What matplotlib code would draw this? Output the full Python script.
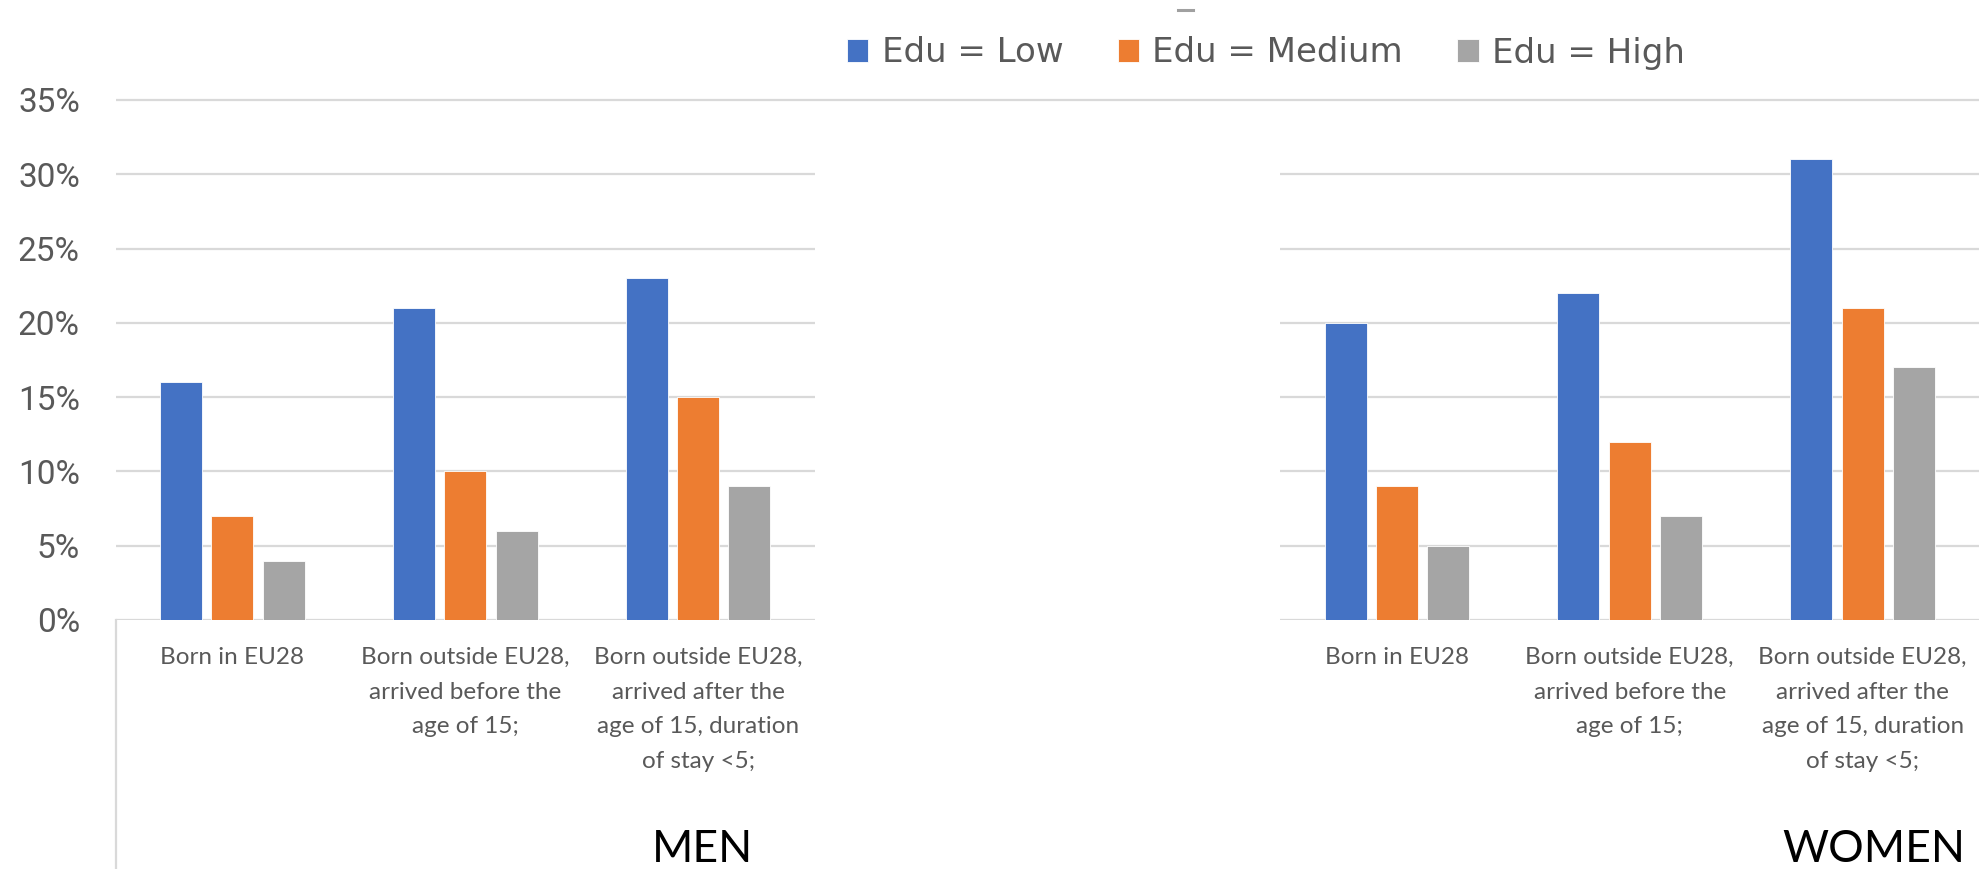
import matplotlib.pyplot as plt
import numpy as np
from matplotlib.lines import Line2D

categories = ["Born in EU28",
              "Born outside EU28,\narrived before the\nage of 15;",
              "Born outside EU28,\narrived after the\nage of 15, duration\nof stay <5;"]
groups = ["MEN", "WOMEN"]
series = ["Edu = Low", "Edu = Medium", "Edu = High"]

men_low = [0.16, 0.21, 0.23]
men_medium = [0.07, 0.10, 0.15]
men_high = [0.04, 0.06, 0.09]
women_low = [0.20, 0.22, 0.31]
women_medium = [0.09, 0.12, 0.21]
women_high = [0.05, 0.07, 0.17]

colors = ["#4472C4", "#ED7D31", "#A5A5A5"]
grid_c = "#D9D9D9"
text_c = "#595959"

W, H = 1979, 869
fig = plt.figure(figsize=(W / 100, H / 100), dpi=100)
ax = fig.add_axes([116 / W, (H - 620) / H, (W - 116) / W, 520 / H])

# men on slots 0-2, women on slots 5-7, two empty slots between
men_x = np.arange(3)
women_x = np.arange(3) + 5
bar_w = 0.18
step = 0.22

men_vals = [men_low, men_medium, men_high]
women_vals = [women_low, women_medium, women_high]
for i in range(3):
    off = (i - 1) * step
    ax.bar(men_x + off, men_vals[i], width=bar_w, color=colors[i],
           edgecolor="white", linewidth=0.6, label=series[i], zorder=3)
    ax.bar(women_x + off, women_vals[i], width=bar_w, color=colors[i],
           edgecolor="white", linewidth=0.6, zorder=3)

ax.set_xlim(-0.5, 7.5)
ax.set_ylim(0, 0.35)

# gridlines only under each panel, top line runs across
yt = np.arange(0, 0.351, 0.05)
for y in yt[:-1]:
    ax.hlines(y, -0.5, 2.5, color=grid_c, lw=1.6, zorder=1)
    ax.hlines(y, 4.5, 7.5, color=grid_c, lw=1.6, zorder=1)
ax.hlines(0.35, -0.5, 7.5, color=grid_c, lw=1.6, zorder=1, clip_on=False)
ax.plot([0, 0], [0, -0.48], transform=ax.transAxes, color=grid_c,
        lw=1.6, clip_on=False)

for s in ax.spines.values():
    s.set_visible(False)
ax.set_xticks([])
ax.set_yticks(yt)
ax.set_yticklabels([f"{int(round(v * 100))}%" for v in yt],
                   fontfamily="Roboto", fontsize=24, color=text_c)
ax.tick_params(axis="y", length=0, pad=26)

# category labels under each group
for xs in (men_x, women_x):
    for x, lab in zip(xs, categories):
        ax.text(x, -0.35 * 27 / 520, lab, ha="center", va="top",
                fontfamily="Lato", fontsize=17.5, color=text_c,
                linespacing=1.8, clip_on=False)

for x, g in zip((2.02, 7.05), groups):
    ax.text(x, -0.35 * (862 - 620) / 520, g, ha="center", va="baseline",
            fontfamily="Lato", fontsize=32, color="black", clip_on=False)

fig.legend(loc="center", bbox_to_anchor=(1266 / W, 1 - 53 / H), ncol=3,
           frameon=False, prop={"family": "DejaVu Sans", "size": 24.5},
           labelcolor=text_c, handlelength=0.62, handleheight=0.62,
           handletextpad=0.4, columnspacing=1.6)

fig.add_artist(Line2D([1178 / W, 1193 / W], [1 - 9.5 / H, 1 - 9.5 / H],
                      color="#A0A0A0", lw=2.2))

fig.savefig("out.png", dpi=100)
